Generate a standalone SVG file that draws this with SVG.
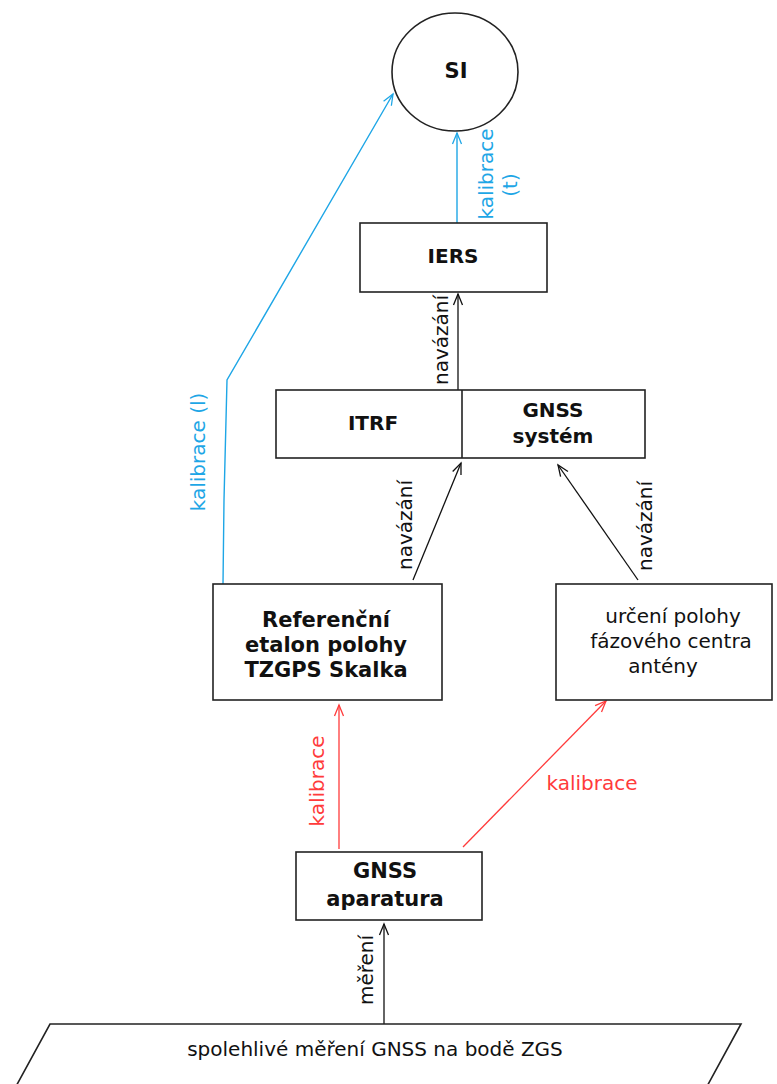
<svg xmlns="http://www.w3.org/2000/svg" width="777" height="1084" viewBox="0 0 777 1084">
<style>
.box{fill:#fff;stroke:#222;stroke-width:1.6}
.t{font-family:"DejaVu Sans","Liberation Sans",sans-serif;font-size:20px;fill:#111;text-anchor:middle}
.b{font-weight:bold}
.b21{font-size:21px}
.lbl{font-family:"DejaVu Sans","Liberation Sans",sans-serif;font-size:20px;text-anchor:middle}
.blue{stroke:#1ea6e6;fill:none;stroke-width:1.4}
.red{stroke:#ff3b3b;fill:none;stroke-width:1.3}
.blk{stroke:#111;fill:none;stroke-width:1.3}
</style>
<defs>
<marker id="ab" markerUnits="userSpaceOnUse" markerWidth="14" markerHeight="12" viewBox="-12 -6 14 12" refX="0" refY="0" orient="auto"><path d="M-11,-4.5 L0,0 L-11,4.5" fill="none" stroke="#1ea6e6" stroke-width="1.3"/></marker>
<marker id="ar" markerUnits="userSpaceOnUse" markerWidth="14" markerHeight="12" viewBox="-12 -6 14 12" refX="0" refY="0" orient="auto"><path d="M-11,-4.5 L0,0 L-11,4.5" fill="none" stroke="#ff3b3b" stroke-width="1.3"/></marker>
<marker id="ak" markerUnits="userSpaceOnUse" markerWidth="14" markerHeight="12" viewBox="-12 -6 14 12" refX="0" refY="0" orient="auto"><path d="M-11,-4.5 L0,0 L-11,4.5" fill="none" stroke="#111" stroke-width="1.3"/></marker>
</defs>
<rect width="777" height="1084" fill="#fff"/>

<g id="connectors">
<path class="blue" d="M457,223 L457,133" marker-end="url(#ab)"/>
<path class="blue" d="M223,584 L224,500 L227,380 L393,94" marker-end="url(#ab)"/>
<path class="blk" d="M458,390 L458,294" marker-end="url(#ak)"/>
<path class="blk" d="M413,580 L461,463" marker-end="url(#ak)"/>
<path class="blk" d="M638,580 L558,465" marker-end="url(#ak)"/>
<path class="red" d="M339,849 L339,705" marker-end="url(#ar)"/>
<path class="red" d="M463,847 L606,701" marker-end="url(#ar)"/>
<path class="blk" d="M384,1024 L384,924" marker-end="url(#ak)"/>

<text class="lbl" fill="#1ea6e6" transform="translate(493,174) rotate(-90)">kalibrace</text>
<text class="lbl" fill="#1ea6e6" transform="translate(517,185) rotate(-90)">(t)</text>
<text class="lbl" fill="#1ea6e6" transform="translate(205,452) rotate(-90)">kalibrace (l)</text>
<text class="lbl" fill="#111" transform="translate(448,340) rotate(-90)">navázání</text>
<text class="lbl" fill="#111" transform="translate(412,525) rotate(-90)">navázání</text>
<text class="lbl" fill="#111" transform="translate(652,526) rotate(-90)">navázání</text>
<text class="lbl" fill="#ff3b3b" transform="translate(324,781) rotate(-90)">kalibrace</text>
<text class="lbl" fill="#ff3b3b" x="592" y="790">kalibrace</text>
<text class="lbl" fill="#111" transform="translate(373,970) rotate(-90)">měření</text>
</g>

<g id="node-si">
<ellipse class="box" cx="455" cy="72" rx="63" ry="59"/>
<text class="t b b21" x="456" y="78">SI</text>
</g>

<g id="node-iers">
<rect class="box" x="360" y="223" width="187" height="69"/>
<text class="t b" x="453" y="263">IERS</text>
</g>

<g id="node-itrf-gnss">
<rect class="box" x="276" y="390" width="369" height="68"/>
<line x1="462" y1="390" x2="462" y2="458" stroke="#222" stroke-width="1.6"/>
<text class="t b" x="373" y="430">ITRF</text>
<text class="t b" x="553" y="417">GNSS</text>
<text class="t b" x="553" y="443">systém</text>
</g>

<g id="node-referencni">
<rect class="box" x="213" y="584" width="229" height="116"/>
<text class="t b b21" x="326" y="627">Referenční</text>
<text class="t b b21" x="326" y="652">etalon polohy</text>
<text class="t b b21" x="326" y="677">TZGPS Skalka</text>
</g>

<g id="node-urceni">
<rect class="box" x="556" y="584" width="216" height="116"/>
<text class="t" x="673" y="623">určení polohy</text>
<text class="t" x="671" y="648">fázového centra</text>
<text class="t" x="663" y="673">antény</text>
</g>

<g id="node-aparatura">
<rect class="box" x="296" y="852" width="186" height="68"/>
<text class="t b b21" x="385" y="878">GNSS</text>
<text class="t b b21" x="385" y="906">aparatura</text>
</g>

<g id="node-mereni">
<polygon class="box" points="50,1024 741,1024 705,1090 14,1090"/>
<text class="t" x="375" y="1056">spolehlivé měření GNSS na bodě ZGS</text>
</g>
</svg>
